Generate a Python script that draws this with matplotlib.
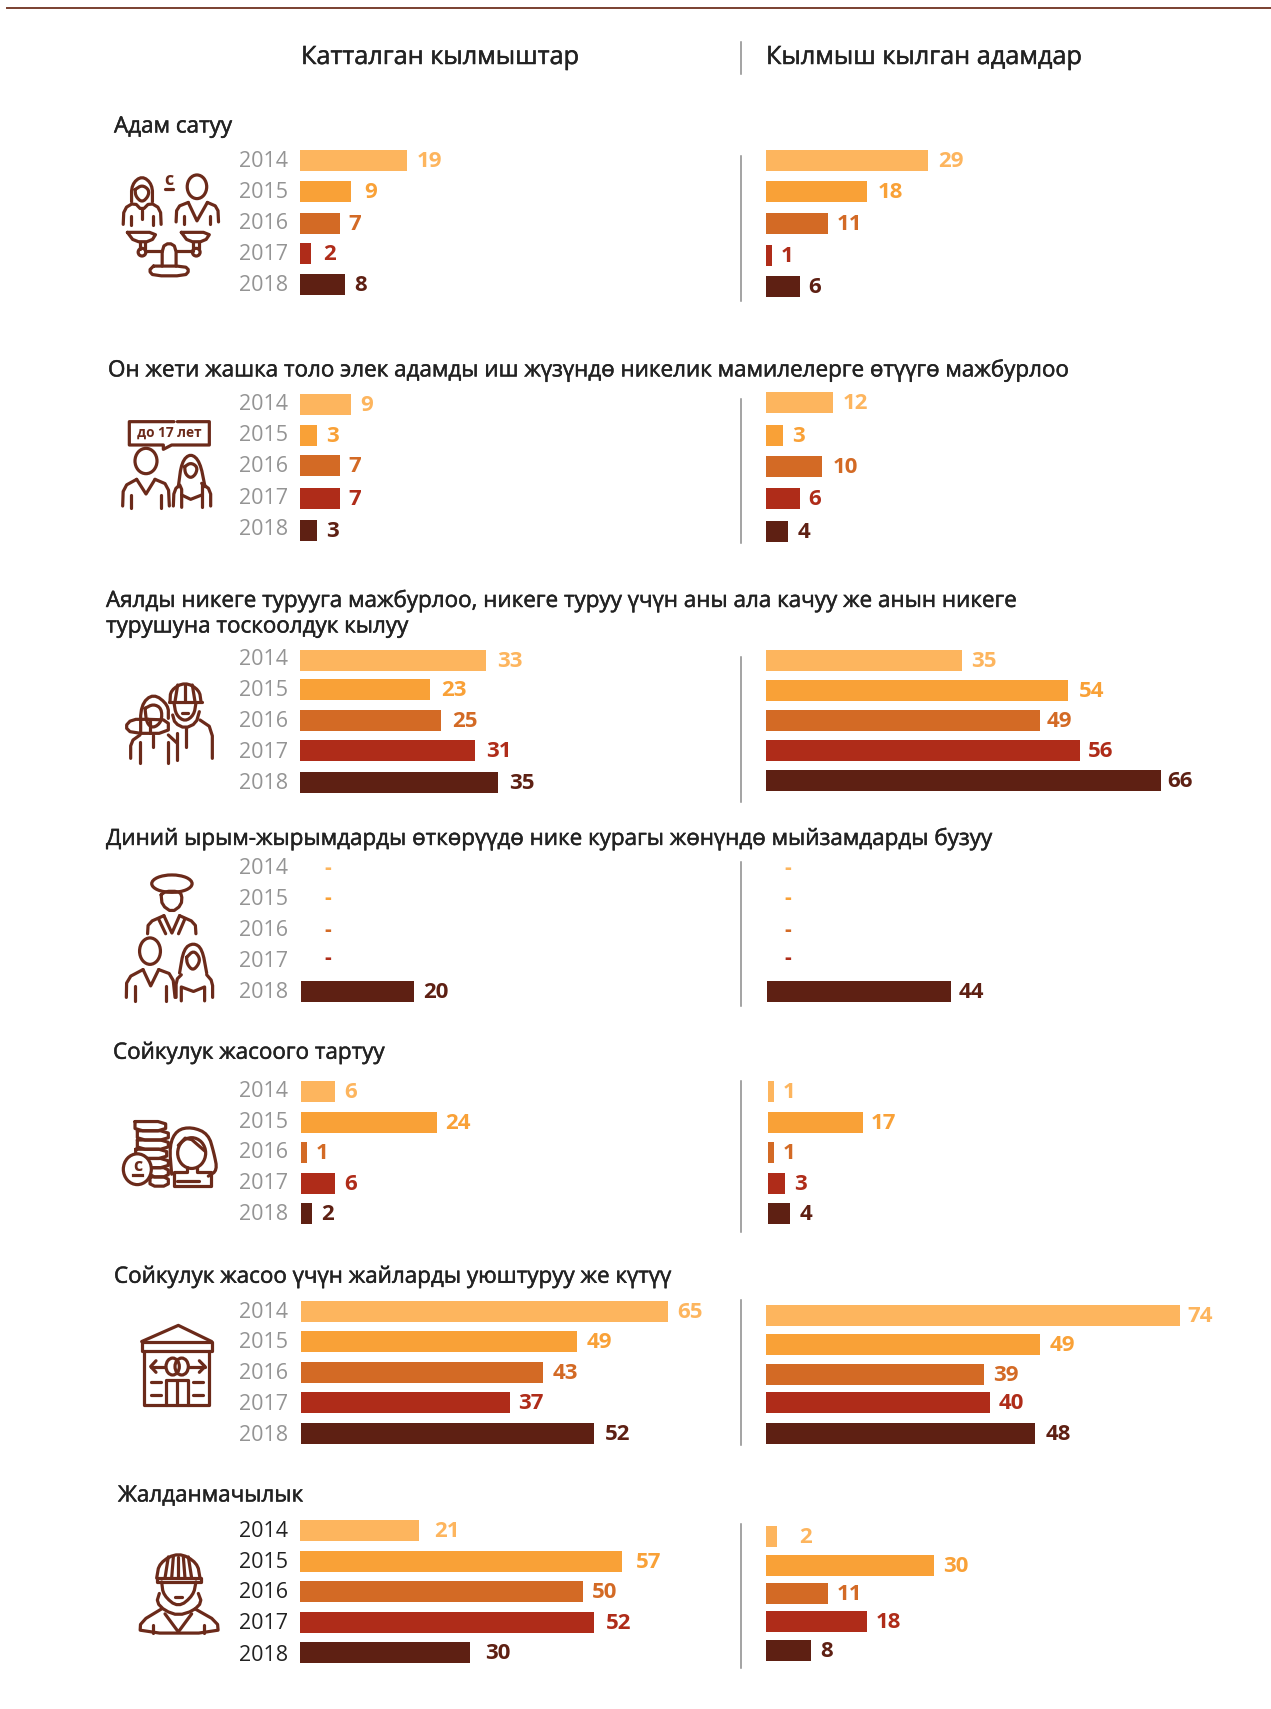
import numpy as np
import matplotlib
matplotlib.use("Agg")
import matplotlib.pyplot as plt
import matplotlib.patheffects as pe
from matplotlib.patches import Ellipse

W, H = 1271, 1709
plt.rcParams['font.family'] = ['Open Sans', 'Noto Sans', 'DejaVu Sans']

# data
years = [2014, 2015, 2016, 2017, 2018]
col_titles = ['Катталган кылмыштар', 'Кылмыш кылган адамдар']
group_titles = [
    ['Адам сатуу'],
    ['Он жети жашка толо элек адамды иш жүзүндө никелик мамилелерге өтүүгө мажбурлоо'],
    ['Аялды никеге турууга мажбурлоо, никеге туруу үчүн аны ала качуу же анын никеге',
     'турушуна тоскоолдук кылуу'],
    ['Диний ырым-жырымдарды өткөрүүдө нике курагы жөнүндө мыйзамдарды бузуу'],
    ['Сойкулук жасоого тартуу'],
    ['Сойкулук жасоо үчүн жайларды уюштуруу же күтүү'],
    ['Жалданмачылык'],
]
left_values = [
    [19, 9, 7, 2, 8],
    [9, 3, 7, 7, 3],
    [33, 23, 25, 31, 35],
    [None, None, None, None, 20],
    [6, 24, 1, 6, 2],
    [65, 49, 43, 37, 52],
    [21, 57, 50, 52, 30],
]
right_values = [
    [29, 18, 11, 1, 6],
    [12, 3, 10, 6, 4],
    [35, 54, 49, 56, 66],
    [None, None, None, None, 44],
    [1, 17, 1, 3, 4],
    [74, 49, 39, 40, 48],
    [2, 30, 11, 18, 8],
]
# two bars in the source are not drawn to the length of their printed value
right_bar_length = {(2, 4): 70.5, (3, 4): 32.9}

# layout, in pixels of the picture
bar_colors = ['#FDB55E', '#F9A137', '#D36A25', '#AF2C19', '#5E2013']
icon_color = '#6B2A1A'
left_scale, right_scale = 5.65, 5.6
title_pos = [(114, [127]), (108, [370.5]), (106, [601, 627]), (106, [839]),
             (113, [1053]), (114, [1277]), (118, [1496])]
year_rows = [[160, 191, 222, 253, 284], [403, 434, 465, 497, 528],
             [658, 689, 720, 751, 782], [867, 898, 929, 960, 991],
             [1090, 1121, 1151, 1182, 1213], [1311, 1341, 1372, 1403, 1434],
             [1530, 1561, 1591, 1622, 1654]]
left_rows = [[160.5, 191.5, 223, 253.5, 284.5], [404, 435, 465, 498, 530],
             [660, 689, 720, 750, 782], [868, 899, 930, 959, 991.5],
             [1091, 1122, 1152, 1183, 1213.5], [1311, 1341, 1372, 1402, 1433],
             [1530, 1561, 1591, 1622, 1652]]
right_rows = [[160, 191.5, 223.5, 255, 286.5], [402, 435, 466, 498, 531],
              [660.5, 690.5, 720.5, 750.5, 780.5], [868, 898, 930, 959, 991.5],
              [1091, 1122, 1152, 1183, 1213.5], [1315, 1344, 1374, 1402, 1433],
              [1536, 1565, 1593, 1621, 1650]]
left_x0 = [300, 300, 300, 301, 301, 300.5, 300]
right_x0 = [766, 766, 766, 767, 768, 766, 766]
vlines = [(156, 301), (399, 543), (657, 802), (862, 1006), (1081, 1232),
          (1300, 1445), (1524, 1668)]
# label gaps that differ from the usual 9 px: (group, side, row)
gaps = {(0, 0, 1): 13, (0, 0, 3): 12,
        (2, 0, 0): 11, (2, 0, 1): 11, (2, 0, 2): 11, (2, 0, 3): 11, (2, 0, 4): 11,
        (5, 0, 4): 11, (6, 0, 0): 16, (6, 0, 1): 14, (6, 0, 3): 12, (6, 0, 4): 16,
        (0, 1, 0): 10, (0, 1, 1): 11, (1, 1, 2): 11, (2, 1, 1): 10, (2, 1, 2): 6,
        (2, 1, 3): 8, (2, 1, 4): 6, (3, 1, 4): 7, (4, 1, 1): 7, (5, 1, 0): 7,
        (5, 1, 4): 11, (6, 1, 0): 22}

fig = plt.figure(figsize=(W / 100, H / 100), dpi=100, facecolor='white')
bg = fig.add_axes([0, 0, 1, 1])
bg.set_xlim(0, W)
bg.set_ylim(H, 0)
bg.axis('off')

# slightly heavier than Open Sans Regular, as in the source
heavy = [pe.withStroke(linewidth=0.35, foreground='#222222')]

# top rule and column heads
bg.plot([7, W], [8, 8], color='#7A4030', lw=1.4)
bg.text(301, 57.5, col_titles[0], fontsize=18.2, color='#222222', va='center', path_effects=heavy)
bg.text(766, 57.5, col_titles[1], fontsize=18.2, color='#222222', va='center', path_effects=heavy)
bg.plot([741, 741], [42, 74], color='#8A8A8A', lw=1.1)


def panel(x0, top, bottom, width, scale):
    ax = fig.add_axes([x0 / W, 1 - bottom / H, width / W, (bottom - top) / H])
    ax.set_xlim(0, width / scale)
    ax.set_ylim(bottom, top)
    ax.axis('off')
    ax.patch.set_alpha(0)
    return ax


for g in range(7):
    x, ys = title_pos[g]
    for line, y in zip(group_titles[g], ys):
        bg.text(x, y, line, fontsize=16.15, color='#222222', va='center', path_effects=heavy)
    year_color = '#222222' if g == 6 else '#949494'
    for yr, y in zip(years, year_rows[g]):
        bg.text(288, y + 1.5, str(yr), fontsize=15.5, color=year_color, ha='right', va='center')
    bg.plot([741, 741], vlines[g], color='#8A8A8A', lw=1.1)

    top, bottom = min(left_rows[g] + right_rows[g]) - 20, max(left_rows[g] + right_rows[g]) + 20
    for side, (vals, rows, x0, scale) in enumerate([
            (left_values[g], left_rows[g], left_x0[g], left_scale),
            (right_values[g], right_rows[g], right_x0[g], right_scale)]):
        ax = panel(x0, top, bottom, 490, scale)
        for i, v in enumerate(vals):
            c = bar_colors[i]
            if v is None:
                # no value: a dash instead of a bar
                ax.annotate('-', (0, rows[i]), xytext=(((27 if side == 0 else 21)) * 0.72, 0),
                            textcoords='offset points', ha='center', va='center',
                            fontsize=15, fontweight='bold', color=c)
                continue
            length = right_bar_length.get((g, i), v) if side == 1 else v
            ax.barh(rows[i], length, height=21, color=c)
            gap = gaps.get((g, side, i), 9)
            ax.annotate(str(v), (length, rows[i]), xytext=(gap * 0.72, -1),
                        textcoords='offset points', va='center',
                        fontsize=16, fontweight='bold', color=c)


# icons, drawn in the pixel frame of the background axes
def chaikin(pts, n=2):
    pts = np.array(pts, dtype=float)
    for _ in range(n):
        q = pts[:-1] * 0.75 + pts[1:] * 0.25
        r = pts[:-1] * 0.25 + pts[1:] * 0.75
        mid = np.empty((len(q) * 2, 2))
        mid[0::2] = q
        mid[1::2] = r
        pts = np.vstack([pts[0], mid, pts[-1]])
    return pts


def pen(ox, oy, kx, ky=None):
    ky = ky or kx

    def line(pts, smooth=0):
        p = chaikin(pts, smooth) if smooth else np.array(pts, dtype=float)
        bg.plot(ox + p[:, 0] / kx, oy + p[:, 1] / ky, color=icon_color, lw=2.3,
                solid_capstyle='round', solid_joinstyle='round')

    def ell(cx, cy, rx, ry, fill=False):
        bg.add_patch(Ellipse((ox + cx / kx, oy + cy / ky), 2 * rx / kx, 2 * ry / ky,
                             fc='white' if fill else 'none', ec=icon_color, lw=2.3,
                             zorder=3 if fill else 1))

    return line, ell


def closed(x1, y1, x2, y2):
    return [(x1, y1), (x2, y1), (x2, y2), (x1, y2), (x1, y1)]


# scales and two people
line, ell = pen(110, 160, 2.875)
line([(62, 120), (62, 70), (92, 45), (122, 70), (122, 120)], 2)
line([(72, 85), (92, 72), (112, 85), (110, 105), (92, 122), (74, 105), (72, 85)], 2)
line([(38, 185), (40, 140), (70, 122), (92, 145), (115, 122), (145, 140), (147, 185)], 1)
line([(92, 145), (92, 170)])
line([(60, 160), (60, 188)])
line([(125, 160), (125, 188)])
ell(250, 77, 28, 34)
line([(190, 178), (192, 135), (225, 122)], 1)
line([(225, 122), (250, 175), (280, 122)])
line([(280, 122), (310, 135), (312, 178)], 1)
line([(212, 160), (212, 185)])
line([(288, 160), (288, 185)])
line([(50, 208), (135, 208), (118, 235), (70, 235), (50, 208)], 1)
line([(205, 208), (290, 208), (272, 235), (225, 235), (205, 208)], 1)
line([(85, 235), (85, 255)])
line([(100, 235), (100, 255)])
line([(240, 235), (240, 255)])
line([(255, 235), (255, 255)])
line([(102, 262), (150, 262)])
line([(190, 262), (238, 262)])
ell(92, 265, 11, 11)
ell(248, 265, 11, 11)
line([(150, 305), (150, 250), (170, 238), (190, 250), (190, 305)], 1)
line([(125, 305), (215, 305), (228, 318), (215, 333), (125, 333), (112, 318), (125, 305)], 1)
bg.text(110 + 170 / 2.875, 160 + 58 / 2.875, 'с', fontsize=13, fontweight='bold',
        color=icon_color, ha='center', va='center')
line([(158, 84), (182, 84)])

# under 17 couple
line, ell = pen(100, 400, 3)
line([(222, 65), (88, 65), (88, 135), (190, 135), (190, 148), (215, 135), (328, 135), (328, 65), (232, 65)])
bg.text(169, 433, 'до 17 лет', fontsize=9.8, fontweight='bold', color=icon_color,
        ha='center', va='center')
ell(138, 183, 33, 38)
line([(68, 318), (70, 260), (110, 238)], 1)
line([(110, 238), (138, 282), (165, 238)])
line([(165, 238), (205, 255), (208, 318)], 1)
line([(93, 285), (93, 325)])
line([(183, 285), (183, 325)])
line([(235, 260), (245, 185), (272, 160), (300, 185), (315, 260)], 2)
line([(254, 200), (272, 188), (292, 200), (288, 222), (272, 235), (256, 222), (254, 200)], 2)
line([(220, 318), (222, 270), (245, 250), (245, 322)], 1)
line([(245, 285), (272, 298), (305, 285)])
line([(305, 250), (305, 322)])
line([(305, 250), (332, 270), (332, 318)], 1)

# woman and hat man
line, ell = pen(100, 400, 3)
line([(210, 905), (212, 870), (255, 846), (298, 870), (303, 905)], 2)
for xa, xb in [(233, 225), (255, 255), (277, 285)]:
    line([(xa, 855), (xb, 905)])
line([(208, 905), (305, 905)])
line([(222, 908), (228, 945), (255, 965), (282, 945), (288, 908)], 2)
line([(245, 938), (265, 938)])
line([(218, 945), (225, 970), (255, 985), (288, 970), (298, 935)], 1)
line([(300, 960), (337, 985), (337, 1075)], 1)
line([(258, 985), (258, 1040)])
line([(232, 1000), (232, 1080)])
line([(122, 1000), (122, 915), (160, 880), (205, 915), (205, 955)], 2)
line([(135, 925), (160, 912), (185, 925), (185, 965), (160, 985), (140, 970), (135, 925)], 2)
line([(145, 958), (95, 958), (75, 980), (95, 1000), (205, 1000), (205, 960), (145, 958)], 1)
line([(150, 960), (150, 1000)])
line([(92, 1075), (92, 1025), (120, 1005)], 1)
line([(205, 1005), (232, 1030)], 1)
line([(120, 1025), (120, 1088)])
line([(203, 1025), (203, 1088)])
line([(160, 1005), (160, 1040)])

# priest and couple
line, ell = pen(110, 860, 2.875)
ell(178, 68, 58, 25)
line([(147, 100), (150, 130), (178, 150), (205, 130), (207, 100), (195, 90), (160, 90), (147, 100)], 1)
line([(108, 212), (110, 180), (155, 160)], 1)
line([(155, 160), (178, 210), (200, 160)])
line([(200, 160), (245, 180), (247, 212)], 1)
line([(140, 170), (160, 212)])
line([(215, 170), (197, 212)])
ell(115, 262, 30, 38)
line([(47, 395), (48, 340), (95, 315)], 1)
line([(95, 315), (117, 362), (140, 315)])
line([(140, 315), (180, 330), (187, 395)], 1)
line([(72, 362), (72, 405)])
line([(160, 362), (160, 405)])
line([(200, 325), (212, 255), (240, 238), (265, 255), (278, 325)], 2)
line([(220, 280), (240, 260), (258, 280), (255, 300), (238, 318), (222, 300), (220, 280)], 2)
line([(190, 395), (190, 345), (205, 330)], 1)
line([(205, 405), (205, 365), (240, 378), (272, 365), (272, 405)])
line([(278, 330), (295, 350), (295, 395)], 1)

# coins and woman
line, ell = pen(100, 1080, 3, 2.6)
for y1, x1, x2 in [(108, 105, 197), (132, 112, 205), (156, 112, 205), (180, 107, 200), (204, 112, 205), (228, 150, 205), (252, 150, 205)]:
    line(closed(x1, y1, x2, y1 + 24), 1)
ell(112, 232, 42, 40, fill=True)
bg.text(100 + 114 / 3, 1080 + 224 / 2.6, 'с', fontsize=13, fontweight='bold',
        color=icon_color, ha='center', va='center', zorder=4)
bg.plot([133, 142], [1175, 1175], color=icon_color, lw=2.3, zorder=4)
line([(215, 245), (208, 170), (230, 130), (275, 122), (325, 140), (342, 190), (352, 235), (325, 250)], 2)
line([(235, 170), (262, 145), (315, 185)], 1)
ell(275, 190, 42, 40)
line([(262, 225), (262, 240), (222, 240), (222, 275), (332, 275), (332, 240), (290, 240), (290, 225)])
line([(232, 262), (296, 262)])

# brothel building
line, ell = pen(100, 1080, 3, 2.6)
line([(125, 680), (235, 638), (335, 680)])
line(closed(125, 680, 337, 705))
line([(132, 705), (132, 845), (328, 845), (328, 705)])
ell(218, 745, 20, 22)
ell(245, 745, 20, 22)
line([(195, 745), (152, 745)])
line([(168, 730), (152, 745), (168, 760)])
line([(268, 745), (315, 745)])
line([(298, 730), (315, 745), (298, 760)])
line([(197, 845), (197, 780), (265, 780), (265, 845)])
line([(230, 780), (230, 845)])
for xa, xb in [(152, 182), (278, 308)]:
    line([(xa, 785), (xb, 785)])
    line([(xa, 820), (xb, 820)])

# man with knitted hat
line, ell = pen(100, 1080, 3, 2.6)
line([(170, 1295), (178, 1255), (235, 1228), (292, 1255), (300, 1295)], 2)
line([(170, 1295), (303, 1295), (303, 1305), (170, 1305), (170, 1295)])
for xa, xb in [(205, 195), (220, 215), (235, 235), (250, 255), (265, 275)]:
    line([(xa, 1240), (xb, 1295)])
line([(185, 1305), (190, 1340), (235, 1372), (280, 1340), (288, 1305)], 2)
line([(225, 1343), (245, 1343)])
line([(178, 1335), (170, 1358), (195, 1380), (235, 1392), (280, 1380), (305, 1358), (295, 1335)], 1)
line([(185, 1375), (122, 1408), (120, 1438), (355, 1438), (352, 1408), (285, 1375)], 1)
line([(195, 1388), (235, 1435), (275, 1388)])
line([(160, 1418), (160, 1438)])
line([(312, 1418), (312, 1438)])

fig.savefig('out.png', dpi=100, facecolor='white')
